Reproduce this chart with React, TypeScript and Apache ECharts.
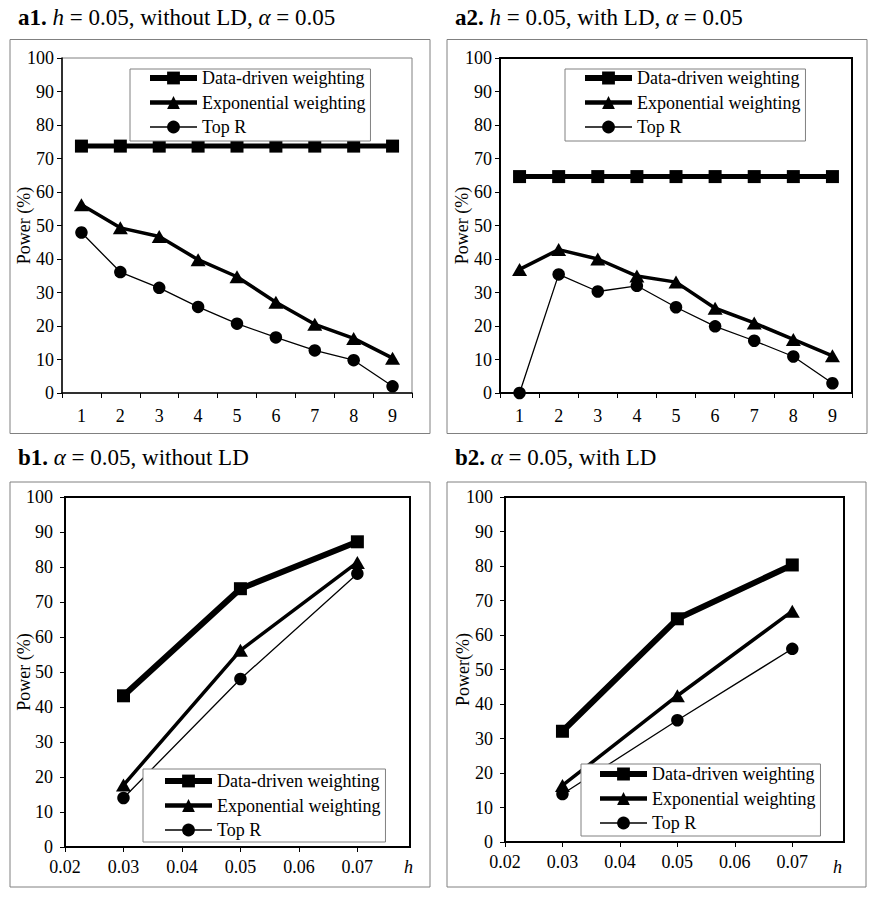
import React, { useEffect, useRef } from "react";
import * as echarts from "echarts";

const FONT = "Liberation Serif";

// ---------- data ----------
const seriesNames = ["Data-driven weighting", "Exponential weighting", "Top R"];
const positions = ["1", "2", "3", "4", "5", "6", "7", "8", "9"];

const a1DataDriven = [73.7, 73.7, 73.7, 73.7, 73.7, 73.7, 73.7, 73.7, 73.7];
const a1Exponential = [56.2, 49.3, 46.7, 39.8, 34.7, 27.1, 20.5, 16.3, 10.4];
const a1TopR = [47.9, 36.1, 31.4, 25.7, 20.7, 16.6, 12.7, 9.8, 2.0];

const a2DataDriven = [64.6, 64.6, 64.6, 64.6, 64.6, 64.6, 64.6, 64.6, 64.6];
const a2Exponential = [36.9, 42.8, 40.0, 34.9, 33.1, 25.3, 20.9, 16.0, 11.1];
const a2TopR = [0, 35.4, 30.3, 32.0, 25.6, 19.9, 15.6, 10.9, 2.9];

const hValues = [0.03, 0.05, 0.07];
const b1DataDriven = [43.2, 73.8, 87.2];
const b1Exponential = [17.7, 56.2, 81.3];
const b1TopR = [14.0, 48.0, 78.1];

const b2DataDriven = [32.1, 64.7, 80.3];
const b2Exponential = [16.4, 42.4, 66.9];
const b2TopR = [13.9, 35.3, 56.0];

const hTicks = [0.02, 0.03, 0.04, 0.05, 0.06, 0.07];
const powerMin = 0;
const powerMax = 100;
const powerStep = 10;

const titles = [
  "{b|a1.} {i|h} = 0.05, without LD, {i|α} = 0.05",
  "{b|a2.} {i|h} = 0.05, with LD, {i|α} = 0.05",
  "{b|b1.} {i|α} = 0.05, without LD",
  "{b|b2.} {i|α} = 0.05, with LD",
];
const yNames = ["Power (%)", "Power (%)", "Power (%)", "Power(%)"];

// ---------- styling helpers ----------
const styles = [
  { symbol: "rect", size: 13, width: 5 },
  { symbol: "triangle", size: [15, 13], width: 3.5 },
  { symbol: "circle", size: 12.5, width: 1.3 },
];

function lineSeries(name: string, idx: number, grid: number, data: any[], wScale = 1) {
  const s = styles[idx];
  return {
    type: "line",
    name,
    xAxisIndex: grid,
    yAxisIndex: grid,
    data,
    symbol: s.symbol,
    symbolSize: s.size,
    showSymbol: true,
    showAllSymbol: true,
    lineStyle: { color: "#000", width: s.width * wScale },
    itemStyle: { color: "#000", borderWidth: 0 },
    emphasis: { disabled: true },
    z: 2 + idx,
  };
}

const legendWidths = [6, 4.5, 1.5];

function legend(left: number, top: number, padding: number[]) {
  return {
    left,
    top,
    orient: "vertical",
    padding,
    backgroundColor: "#fff",
    borderColor: "#808080",
    borderWidth: 1,
    itemWidth: 47,
    itemHeight: 16,
    itemGap: 6.5,
    selectedMode: false,
    textStyle: { fontFamily: FONT, fontSize: 18, color: "#000", lineHeight: 16 },
    data: seriesNames.map((n, i) => ({
      name: n,
      lineStyle: { color: "#000", width: legendWidths[i] },
      itemStyle: { color: "#000" },
    })),
    z: 10,
  };
}

const axisLineStyle = { color: "#000", width: 1.5 };
const labelStyle = { fontFamily: FONT, fontSize: 18, color: "#000" };

function yAxis(grid: number, name: string, margin: number, nameGap: number) {
  return {
    gridIndex: grid,
    type: "value",
    min: powerMin,
    max: powerMax,
    interval: powerStep,
    name,
    nameLocation: "middle",
    nameGap,
    nameMoveOverlap: false,
    nameTextStyle: { fontFamily: FONT, fontSize: 18, color: "#000" },
    axisLine: { show: true, lineStyle: axisLineStyle },
    axisTick: { show: true, length: 5, lineStyle: { color: "#000", width: 1 } },
    axisLabel: { ...labelStyle, margin },
    splitLine: { show: false },
  };
}

function catXAxis(grid: number) {
  return {
    gridIndex: grid,
    type: "category",
    data: positions,
    boundaryGap: true,
    axisLine: { show: true, lineStyle: axisLineStyle },
    axisTick: { show: true, length: 5, lineStyle: { color: "#000", width: 1 } },
    axisLabel: { ...labelStyle, margin: 14 },
    splitLine: { show: false },
  };
}

function hXAxis(grid: number) {
  return {
    gridIndex: grid,
    type: "value",
    min: 0.02,
    max: 0.079,
    interval: 0.01,
    axisLine: { show: true, onZero: false, lineStyle: axisLineStyle },
    axisTick: { show: true, length: 5, customValues: hTicks, lineStyle: { color: "#000", width: 1 } },
    axisLabel: {
      ...labelStyle,
      margin: 11,
      customValues: hTicks,
      formatter: (v: number) =>
        Math.abs(v * 100 - Math.round(v * 100)) < 1e-6 ? v.toFixed(2) : "",
    },
    splitLine: { show: false },
  };
}

const pairs = (vals: number[]) => hValues.map((h, i) => [h, vals[i]]);

export default function App() {
  const ref = useRef<HTMLDivElement>(null);

  useEffect(() => {
    if (!ref.current) return;
    const chart = echarts.init(ref.current, null, { renderer: "svg" });

    const titleCfg = (text: string, left: number, top: number) => ({
      text,
      left,
      top,
      padding: 0,
      textStyle: {
        fontFamily: FONT,
        fontSize: 23,
        fontWeight: "normal",
        color: "#000",
        rich: {
          b: { fontFamily: FONT, fontSize: 23, fontWeight: "bold", color: "#000" },
          i: { fontFamily: FONT, fontSize: 23, fontStyle: "italic", color: "#000" },
        },
      },
    });

    const option: any = {
      animation: false,
      backgroundColor: "#fff",
      textStyle: { fontFamily: FONT },
      title: [
        titleCfg(titles[0], 18, 6),
        titleCfg(titles[1], 455, 6),
        titleCfg(titles[2], 18, 446),
        titleCfg(titles[3], 455, 446),
      ],
      grid: [
        { left: 62, top: 58, width: 350, height: 335, show: true, borderColor: "#808080", borderWidth: 1, backgroundColor: "transparent" },
        { left: 500, top: 58, width: 352, height: 335, show: true, borderColor: "#000", borderWidth: 2, backgroundColor: "transparent" },
        { left: 65, top: 497, width: 345, height: 350, show: true, borderColor: "#000", borderWidth: 2, backgroundColor: "transparent" },
        { left: 505, top: 497, width: 339, height: 345, show: true, borderColor: "#000", borderWidth: 2, backgroundColor: "transparent" },
      ],
      xAxis: [catXAxis(0), catXAxis(1), hXAxis(2), hXAxis(3)],
      yAxis: [
        yAxis(0, yNames[0], 8, 29),
        yAxis(1, yNames[1], 8, 29),
        yAxis(2, yNames[2], 12, 32),
        yAxis(3, yNames[3], 12, 33),
      ],
      legend: [
        legend(130, 69, [0, 5, 5, 17]),
        legend(565, 69, [0, 5, 5, 17]),
        legend(143, 769, [3, 5, 3, 19]),
        legend(581, 764, [1, 5, 4, 16]),
      ],
      series: [
        lineSeries(seriesNames[0], 0, 0, a1DataDriven),
        lineSeries(seriesNames[1], 1, 0, a1Exponential),
        lineSeries(seriesNames[2], 2, 0, a1TopR),
        lineSeries(seriesNames[0], 0, 1, a2DataDriven),
        lineSeries(seriesNames[1], 1, 1, a2Exponential),
        lineSeries(seriesNames[2], 2, 1, a2TopR),
        lineSeries(seriesNames[0], 0, 2, pairs(b1DataDriven), 1.2),
        lineSeries(seriesNames[1], 1, 2, pairs(b1Exponential)),
        lineSeries(seriesNames[2], 2, 2, pairs(b1TopR)),
        lineSeries(seriesNames[0], 0, 3, pairs(b2DataDriven), 1.2),
        lineSeries(seriesNames[1], 1, 3, pairs(b2Exponential)),
        lineSeries(seriesNames[2], 2, 3, pairs(b2TopR)),
      ],
      graphic: [
        { type: "rect", shape: { x: 10, y: 39.5, width: 420, height: 394 }, style: { fill: "none", stroke: "#808080", lineWidth: 1 }, z: -1 },
        { type: "rect", shape: { x: 447, y: 39.5, width: 420, height: 394 }, style: { fill: "none", stroke: "#808080", lineWidth: 1 }, z: -1 },
        { type: "rect", shape: { x: 10, y: 482, width: 420, height: 405 }, style: { fill: "none", stroke: "#808080", lineWidth: 1 }, z: -1 },
        { type: "rect", shape: { x: 447, y: 482, width: 419, height: 405 }, style: { fill: "none", stroke: "#808080", lineWidth: 1 }, z: -1 },
        { type: "text", x: 404, y: 858, style: { text: "h", fontFamily: FONT, fontStyle: "italic", fontSize: 18, fill: "#000" } },
        { type: "text", x: 833, y: 858, style: { text: "h", fontFamily: FONT, fontStyle: "italic", fontSize: 18, fill: "#000" } },
      ],
    };

    chart.setOption(option);
    return () => chart.dispose();
  }, []);

  return (
    <div
      ref={ref}
      style={{ position: "fixed", left: 0, top: 0, width: 874, height: 898, background: "#fff" }}
    />
  );
}
